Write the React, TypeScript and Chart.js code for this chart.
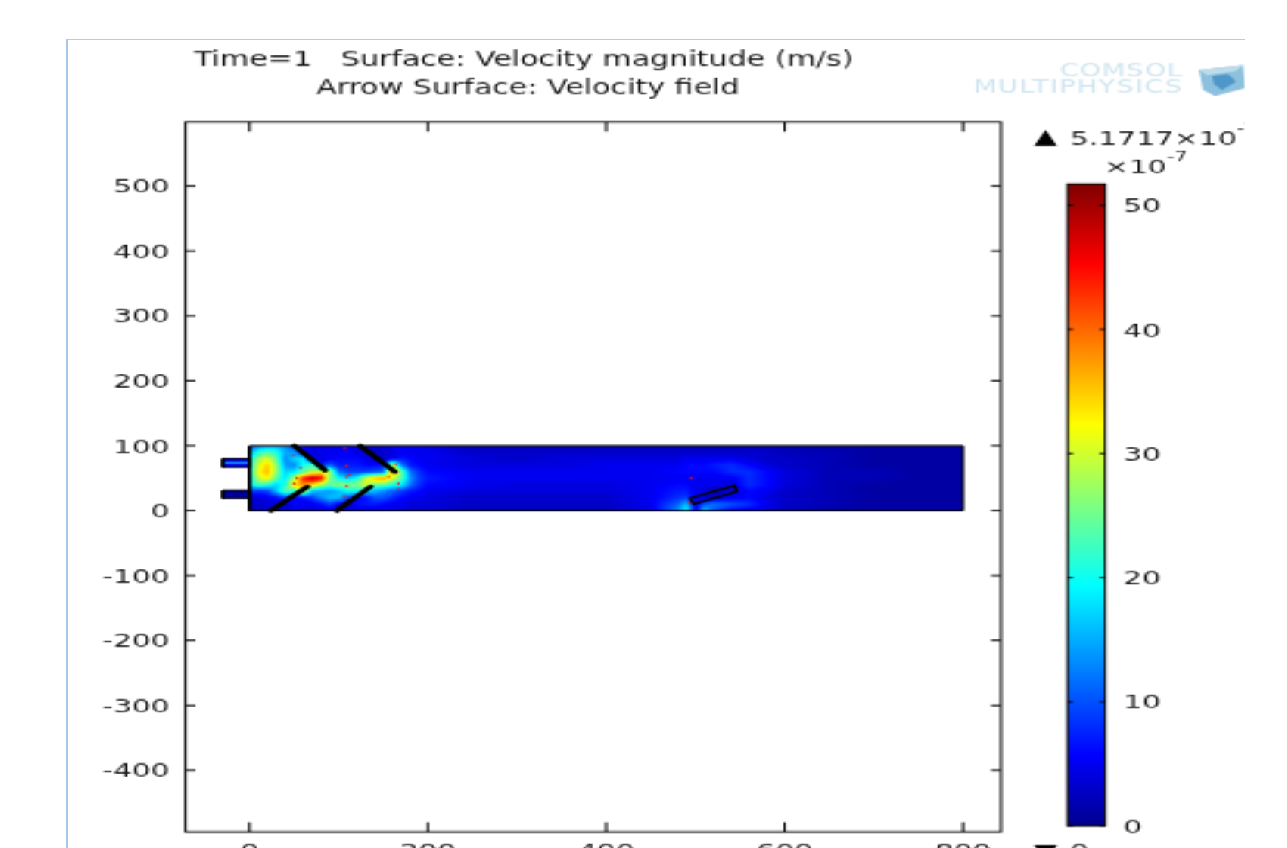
import React, { useEffect, useRef } from "react";
import { Chart, registerables } from "chart.js";

Chart.register(...registerables);

const titleLines = ["Time=1   Surface: Velocity magnitude (m/s)", "Arrow Surface: Velocity field"];
const maxLabel = "5.1717×10";
const unitLabel = "×10";
const exponentLabel = "-7";
const minLabel = "0";
const watermarkLines = ["COMSOL", "MULTIPHYSICS"];

const xTicks = [0, 200, 400, 600, 800];
const yTicks = [500, 400, 300, 200, 100, 0, -100, -200, -300, -400];
const colorbarTicks = [0, 10, 20, 30, 40, 50];
const colorbarMax = 51.717;

const gridX = [0, 10, 20, 30, 40, 50, 60, 70, 80, 90, 100, 110, 120, 130, 140, 150, 160, 170, 180, 190, 200,
  250, 300, 350, 400, 450, 480, 490, 500, 510, 520, 540, 560, 580, 600, 650, 700, 750, 800];
const gridY = [100, 90, 80, 70, 60, 50, 40, 30, 20, 10, 0];

const speedY100 = [9, 13, 15, 15, 13, 9, 6, 4, 4, 4, 5, 5, 5, 4, 3, 4, 5, 6, 5, 5, 4, 2, 2, 2, 2, 2, 2, 2, 2, 2, 2, 2, 2, 2, 2, 1, 1, 1, 1];
const speedY90 = [14, 21, 23, 21, 15, 14, 6, 4, 5, 5, 5, 5, 4, 3, 3, 3, 4, 5, 5, 5, 5, 3, 3, 3, 3, 3, 3, 3, 3, 3, 3, 3, 3, 3, 2, 2, 1, 1, 1];
const speedY80 = [18, 27, 31, 24, 13, 17, 19, 4, 4, 5, 6, 6, 6, 5, 3, 3, 5, 7, 6, 5, 5, 4, 3, 4, 4, 4, 4, 5, 5, 5, 5, 5, 4, 3, 3, 2, 1, 1, 1];
const speedY70 = [19, 30, 35, 27, 14, 13, 20, 24, 7, 11, 7, 7, 7, 6, 6, 7, 30, 13, 7, 6, 5, 4, 4, 4, 5, 5, 5, 6, 6, 6, 7, 8, 6, 4, 3, 2, 1, 1, 1];
const speedY60 = [19, 32, 36, 27, 17, 18, 24, 28, 32, 28, 12, 9, 9, 9, 10, 11, 40, 25, 12, 8, 6, 5, 5, 5, 5, 5, 6, 6, 6, 6, 6, 8, 8, 6, 4, 2, 2, 1, 1];
const speedY50 = [18, 29, 33, 24, 18, 28, 44, 49, 46, 26, 20, 17, 20, 30, 36, 38, 30, 24, 14, 9, 7, 5, 5, 5, 5, 5, 5, 5, 5, 5, 5, 5, 8, 6, 4, 2, 2, 1, 1];
const speedY40 = [18, 23, 21, 17, 21, 34, 38, 34, 28, 24, 26, 26, 26, 30, 25, 24, 21, 19, 12, 8, 6, 5, 4, 4, 4, 5, 6, 6, 5, 5, 5, 4, 8, 6, 4, 2, 1, 1, 1];
const speedY30 = [9, 8, 9, 16, 24, 22, 30, 16, 15, 14, 16, 20, 20, 18, 15, 13, 11, 9, 7, 6, 5, 4, 4, 4, 4, 5, 7, 7, 5, 4, 2, 3, 6, 5, 3, 2, 1, 1, 1];
const speedY20 = [4, 4, 5, 6, 9, 6, 6, 9, 13, 16, 16, 10, 6, 6, 10, 10, 8, 6, 5, 5, 4, 3, 3, 3, 3, 5, 8, 9, 4, 3, 3, 5, 6, 4, 3, 2, 1, 1, 1];
const speedY10 = [3, 3, 4, 4, 3, 6, 5, 5, 6, 9, 5, 4, 6, 7, 7, 6, 5, 5, 4, 4, 4, 3, 3, 3, 3, 5, 11, 16, 5, 10, 12, 10, 8, 5, 3, 2, 1, 1, 1];
const speedY0 = [3, 3, 3, 3, 3, 4, 4, 4, 4, 4, 4, 3, 4, 4, 4, 4, 4, 4, 3, 3, 3, 2, 2, 2, 2, 4, 13, 20, 4, 17, 10, 6, 5, 3, 2, 1, 1, 1, 1];
const speedRows = [speedY100, speedY90, speedY80, speedY70, speedY60, speedY50, speedY40, speedY30, speedY20, speedY10, speedY0];

const channelOutline = [{ x: 0, y: 0 }, { x: 800, y: 0 }, { x: 800, y: 100 }, { x: 0, y: 100 }, { x: 0, y: 0 }];
const baffleTopA = [{ x: 50, y: 100 }, { x: 85, y: 62 }];
const baffleTopB = [{ x: 124, y: 100 }, { x: 163, y: 60 }];
const baffleBottomA = [{ x: 24, y: 0 }, { x: 65, y: 37 }];
const baffleBottomB = [{ x: 98, y: 0 }, { x: 136, y: 37 }];
const obstacle = [{ x: 494, y: 19 }, { x: 544, y: 39 }, { x: 546, y: 29 }, { x: 498, y: 10 }, { x: 494, y: 19 }];
const inletUpper = [{ x: -30, y: 67 }, { x: 0, y: 67 }, { x: 0, y: 80 }, { x: -30, y: 80 }, { x: -30, y: 67 }];
const inletUpperCore = [{ x: -26, y: 73.5 }, { x: 0, y: 73.5 }];
const inletLower = [{ x: -30, y: 19 }, { x: 0, y: 19 }, { x: 0, y: 31 }, { x: -30, y: 31 }, { x: -30, y: 19 }];
const specks = [
  { x: 107, y: 96 }, { x: 49, y: 85 }, { x: 109, y: 69 }, { x: 57, y: 66 }, { x: 112, y: 55 }, { x: 109, y: 52 },
  { x: 53, y: 50 }, { x: 50, y: 42 }, { x: 109, y: 38 }, { x: 167, y: 42 }, { x: 167, y: 33 }, { x: 107, y: 22 },
  { x: 164, y: 71 }, { x: 156, y: 52 }, { x: 495, y: 50 }, { x: 493, y: 12 },
];

const jetPositions = [0, 0.11, 0.375, 0.625, 0.875, 1];
const jetColors = [[0, 0, 143], [0, 0, 255], [0, 255, 255], [255, 255, 0], [255, 0, 0], [128, 0, 0]];

const SX = 2.27;
const SY = 1.49;
const FRAME_LEFT = 66;
const FRAME_TOP = 39;
const lx = (p: number) => (p - FRAME_LEFT) / SX;
const ly = (p: number) => (p - FRAME_TOP) / SY;
const W = 560;
const H = 560;
const FONT = '"DejaVu Sans"';
const FONT_SIZE = 13.1;
const TITLE_SIZE = 13.25;
const INK = "#161616";

function jet(t: number): number[] {
  const v = Math.max(0, Math.min(1, t));
  for (let i = 1; i < jetPositions.length; i++) {
    if (v <= jetPositions[i]) {
      const f = (v - jetPositions[i - 1]) / (jetPositions[i] - jetPositions[i - 1]);
      return jetColors[i].map((c, k) => jetColors[i - 1][k] + (c - jetColors[i - 1][k]) * f);
    }
  }
  return jetColors[jetColors.length - 1];
}

function sampleSpeed(X: number, Y: number): number {
  let i = 0;
  while (i < gridX.length - 2 && X > gridX[i + 1]) i++;
  let j = 0;
  while (j < gridY.length - 2 && Y < gridY[j + 1]) j++;
  const fx = Math.max(0, Math.min(1, (X - gridX[i]) / (gridX[i + 1] - gridX[i])));
  const fy = Math.max(0, Math.min(1, (gridY[j] - Y) / (gridY[j] - gridY[j + 1])));
  const a = speedRows[j][i] * (1 - fx) + speedRows[j][i + 1] * fx;
  const b = speedRows[j + 1][i] * (1 - fx) + speedRows[j + 1][i + 1] * fx;
  return a * (1 - fy) + b * fy;
}

const heatPlugin = {
  id: "heat",
  beforeDatasetsDraw(chart: any) {
    const { x, y } = chart.scales;
    const left = x.getPixelForValue(gridX[0]);
    const right = x.getPixelForValue(gridX[gridX.length - 1]);
    const top = y.getPixelForValue(gridY[0]);
    const bottom = y.getPixelForValue(gridY[gridY.length - 1]);
    const w = Math.ceil(right - left);
    const h = Math.ceil(bottom - top);
    const off = document.createElement("canvas");
    off.width = w;
    off.height = h;
    const c = off.getContext("2d")!;
    const img = c.createImageData(w, h);
    for (let py = 0; py < h; py++) {
      for (let px = 0; px < w; px++) {
        const X = x.getValueForPixel(left + ((px + 0.5) * (right - left)) / w);
        const Y = y.getValueForPixel(top + ((py + 0.5) * (bottom - top)) / h);
        const col = jet(sampleSpeed(X, Y) / colorbarMax);
        const o = (py * w + px) * 4;
        img.data[o] = col[0];
        img.data[o + 1] = col[1];
        img.data[o + 2] = col[2];
        img.data[o + 3] = 255;
      }
    }
    c.putImageData(img, 0, 0);
    chart.ctx.drawImage(off, left, top, right - left, bottom - top);
  },
};

const framePlugin = {
  id: "frame",
  afterDraw(chart: any) {
    const { ctx, chartArea: a, scales } = chart;
    const tx = 4.4;
    const ty = 6.5;
    ctx.save();
    ctx.strokeStyle = "#000";
    ctx.lineWidth = 1;
    ctx.strokeRect(a.left, a.top, a.right - a.left, a.bottom - a.top);
    ctx.beginPath();
    for (const v of xTicks) {
      const p = scales.x.getPixelForValue(v);
      ctx.moveTo(p, a.bottom);
      ctx.lineTo(p, a.bottom - ty);
      ctx.moveTo(p, a.top);
      ctx.lineTo(p, a.top + ty);
    }
    for (const v of yTicks) {
      const p = scales.y.getPixelForValue(v);
      ctx.moveTo(a.left, p);
      ctx.lineTo(a.left + tx, p);
      ctx.moveTo(a.right, p);
      ctx.lineTo(a.right - tx, p);
    }
    ctx.stroke();

    ctx.fillStyle = INK;
    ctx.textBaseline = "middle";
    ctx.textAlign = "left";
    ctx.font = `${TITLE_SIZE}px ${FONT}`;
    ctx.fillText(titleLines[0], lx(194), ly(60));
    ctx.fillText(titleLines[1], lx(316), ly(89));

    ctx.font = `${FONT_SIZE}px ${FONT}`;
    ctx.fillText(maxLabel, lx(1070), ly(139));
    const maxW = ctx.measureText(maxLabel).width;
    ctx.fillText(unitLabel, lx(1104), ly(168));
    const unitW = ctx.measureText(unitLabel).width;
    ctx.fillText(minLabel, lx(1070), ly(852));
    ctx.font = `9px ${FONT}`;
    ctx.fillText(exponentLabel, lx(1070) + maxW, ly(129));
    ctx.fillText(exponentLabel, lx(1104) + unitW, ly(157));

    ctx.fillStyle = "#000";
    ctx.beginPath();
    ctx.moveTo(lx(1034), ly(146));
    ctx.lineTo(lx(1057), ly(146));
    ctx.lineTo(lx(1045.5), ly(130));
    ctx.closePath();
    ctx.moveTo(lx(1034), ly(845));
    ctx.lineTo(lx(1057), ly(845));
    ctx.lineTo(lx(1045.5), ly(861));
    ctx.closePath();
    ctx.fill();

    ctx.fillStyle = "#cfe4f0";
    ctx.textAlign = "right";
    ctx.font = `12px ${FONT}`;
    (ctx as any).letterSpacing = "0.4px";
    ctx.fillText(watermarkLines[0], lx(1183), ly(71));
    (ctx as any).letterSpacing = "0.55px";
    ctx.fillText(watermarkLines[1], lx(1183), ly(88));
    (ctx as any).letterSpacing = "0px";

    const poly = (pts: number[][], fill: string) => {
      ctx.fillStyle = fill;
      ctx.beginPath();
      pts.forEach(([px, py], i) => (i ? ctx.lineTo(lx(px), ly(py)) : ctx.moveTo(lx(px), ly(py))));
      ctx.closePath();
      ctx.fill();
    };
    poly([[1199, 70], [1243, 65], [1245, 88], [1215, 96], [1203, 90]], "#8cc0de");
    poly([[1199, 70], [1243, 65], [1236, 71], [1207, 75]], "#bddbea");
    poly([[1212, 76], [1228, 74], [1236, 82], [1222, 90], [1214, 84]], "#4f97c8");
    ctx.restore();
  },
};

const colorbarPlugin = {
  id: "colorbarTicks",
  afterDatasetsDraw(chart: any) {
    const { ctx, chartArea: a, scales } = chart;
    ctx.save();
    ctx.strokeStyle = "#000";
    ctx.lineWidth = 1;
    ctx.strokeRect(a.left, a.top, a.right - a.left, a.bottom - a.top);
    ctx.beginPath();
    for (const v of colorbarTicks) {
      const p = scales.y.getPixelForValue(v);
      ctx.moveTo(a.left, p);
      ctx.lineTo(a.left + 2.4, p);
      ctx.moveTo(a.right, p);
      ctx.lineTo(a.right - 2.4, p);
    }
    ctx.stroke();
    ctx.restore();
  },
};

const line = (label: string, data: any[], color: string, width: number, extra: any = {}) => ({
  label,
  data,
  showLine: true,
  borderColor: color,
  borderWidth: width,
  pointRadius: 0,
  borderCapStyle: "round",
  fill: false,
  ...extra,
});

export default function App() {
  const mainRef = useRef<HTMLCanvasElement>(null);
  const barRef = useRef<HTMLCanvasElement>(null);

  useEffect(() => {
    const plotLeft = lx(185.5);
    const plotRight = lx(1001);
    const plotTop = ly(122);
    const plotBottom = ly(832);
    const main = new Chart(mainRef.current!, {
      type: "scatter",
      data: {
        datasets: [
          { label: "Specks", data: specks, showLine: false, pointRadius: 0.7, pointBorderWidth: 0, pointBackgroundColor: "#e8141c" },
          line("Baffle top A", baffleTopA, "#000", 2.8),
          line("Baffle top B", baffleTopB, "#000", 2.8),
          line("Baffle bottom A", baffleBottomA, "#000", 2.8),
          line("Baffle bottom B", baffleBottomB, "#000", 2.8),
          line("Obstacle", obstacle, "#000", 1.3),
          line("Channel", channelOutline, "#000", 1),
          line("Upper inlet core", inletUpperCore, "#0a8cff", 1.4),
          line("Upper inlet", inletUpper, "#000", 1, { fill: "shape", backgroundColor: "#0000e0" }),
          line("Lower inlet", inletLower, "#000", 1, { fill: "shape", backgroundColor: "#00009c" }),
        ],
      } as any,
      options: {
        responsive: false,
        animation: false,
        devicePixelRatio: 1,
        layout: {
          autoPadding: false,
          padding: { left: 0, right: W - plotRight, top: plotTop, bottom: 0 },
        },
        plugins: { legend: { display: false }, tooltip: { enabled: false }, title: { display: false } },
        scales: {
          x: {
            type: "linear",
            min: -71.7,
            max: 842.6,
            grid: { display: false, drawTicks: false },
            border: { display: false },
            afterFit: (s: any) => { s.height = H - plotBottom; },
            afterBuildTicks: (s: any) => { s.ticks = xTicks.map((value) => ({ value })); },
            ticks: { autoSkip: false, maxRotation: 0, padding: 6, color: INK, font: { family: "DejaVu Sans", size: FONT_SIZE } },
          },
          y: {
            type: "linear",
            min: -495,
            max: 598.6,
            grid: { display: false, drawTicks: false },
            border: { display: false },
            afterFit: (s: any) => { s.width = plotLeft; },
            afterBuildTicks: (s: any) => { s.ticks = yTicks.map((value) => ({ value })); },
            ticks: { autoSkip: false, padding: 7, labelOffset: 1.2, color: INK, font: { family: "DejaVu Sans", size: FONT_SIZE } },
          },
        },
      } as any,
      plugins: [heatPlugin, framePlugin],
    });

    const BAR_LEFT = 430;
    const bar = new Chart(barRef.current!, {
      type: "bar",
      data: {
        labels: ["Velocity magnitude"],
        datasets: [
          {
            label: "Velocity magnitude",
            data: [colorbarMax],
            barPercentage: 1,
            categoryPercentage: 1,
            backgroundColor: (ctx: any) => {
              const area = ctx.chart.chartArea;
              if (!area) return "#00f";
              const g = ctx.chart.ctx.createLinearGradient(0, area.bottom, 0, area.top);
              jetPositions.forEach((p, i) => g.addColorStop(p, `rgb(${jetColors[i].join(",")})`));
              return g;
            },
          },
        ],
      },
      options: {
        responsive: false,
        animation: false,
        devicePixelRatio: 1,
        layout: {
          autoPadding: false,
          padding: { left: lx(1067.5) - BAR_LEFT, right: 0, top: ly(184), bottom: H - ly(826) },
        },
        plugins: { legend: { display: false }, tooltip: { enabled: false } },
        scales: {
          x: { display: false },
          y: {
            position: "right",
            min: 0,
            max: colorbarMax,
            grid: { display: false, drawTicks: false },
            border: { display: false },
            afterFit: (s: any) => { s.width = W - lx(1105); },
            afterBuildTicks: (s: any) => { s.ticks = colorbarTicks.map((value) => ({ value })); },
            ticks: { autoSkip: false, padding: 8, labelOffset: 1.2, color: INK, font: { family: "DejaVu Sans", size: FONT_SIZE } },
          },
        },
      } as any,
      plugins: [colorbarPlugin],
    });

    return () => {
      main.destroy();
      bar.destroy();
    };
  }, []);

  return (
    <div
      style={{
        position: "absolute",
        left: FRAME_LEFT,
        top: FRAME_TOP,
        width: 1245 - FRAME_LEFT,
        height: 848 - FRAME_TOP,
        overflow: "hidden",
        background: "#fff",
        borderLeft: "2px solid #a9c6e6",
        borderTop: "1px solid #b4cde8",
        boxSizing: "border-box",
      }}
    >
      <div
        style={{
          position: "absolute",
          left: -2,
          top: -1,
          width: W,
          height: H,
          transform: `scale(${SX}, ${SY})`,
          transformOrigin: "0 0",
        }}
      >
        <canvas ref={mainRef} width={W} height={H} style={{ position: "absolute", left: 0, top: 0 }} />
        <canvas ref={barRef} width={W - 430} height={H} style={{ position: "absolute", left: 430, top: 0 }} />
      </div>
    </div>
  );
}
